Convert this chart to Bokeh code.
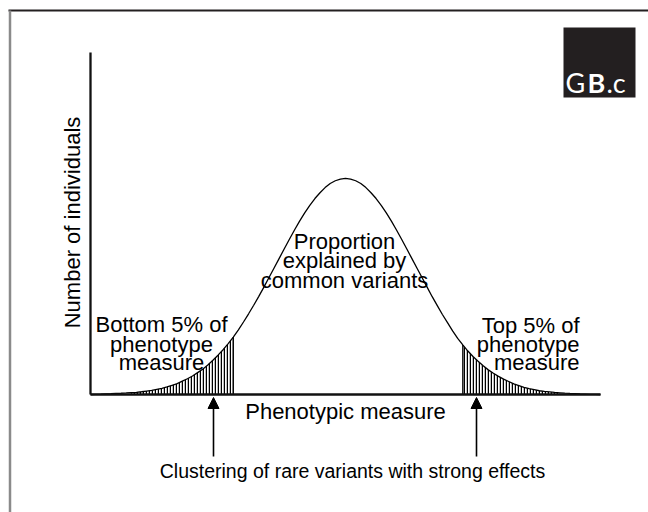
import numpy as np
from bokeh.plotting import figure
from bokeh.models import Range1d, Arrow, NormalHead
from bokeh.core.properties import value
from bokeh.embed import file_html
from bokeh.resources import INLINE

# ---------------- data ----------------
# phenotypic measure (arbitrary units 0..100) and number of individuals (0..100 = top of axis)
phenotype = list(range(0, 101))
individuals = [
    0.0, 0.03, 0.08, 0.15, 0.22, 0.3, 0.37, 0.45, 0.55, 0.65,
    0.8, 1.0, 1.2, 1.5, 1.8, 2.2, 2.7, 3.2, 3.9, 4.6,
    5.4, 6.4, 7.4, 8.6, 10.0, 11.5, 13.1, 14.9, 16.8, 18.9,
    21.2, 23.6, 26.1, 28.7, 31.4, 34.2, 37.0, 39.8, 42.6, 45.4,
    48.1, 50.7, 53.1, 55.3, 57.3, 59.0, 60.5, 61.7, 62.5, 63.0,
    63.2,
    63.0, 62.5, 61.7, 60.5, 59.0, 57.3, 55.3, 53.1, 50.7, 48.1,
    45.4, 42.6, 39.8, 37.0, 34.2, 31.4, 28.6, 26.0, 23.4, 21.0,
    18.6, 16.4, 14.5, 12.7, 11.1, 9.7, 8.4, 7.2, 6.2, 5.3,
    4.5, 3.8, 3.1, 2.6, 2.1, 1.7, 1.4, 1.1, 0.9, 0.75,
    0.6, 0.5, 0.4, 0.32, 0.25, 0.18, 0.12, 0.06, 0.02, 0.0,
]
bottom_tail = (8, 28)    # bottom 5% of phenotype measure
top_tail = (73, 92)      # top 5% of phenotype measure
axis_max = 100

# ---------------- layout helpers (page pixels -> data units) ----------------
X0_PX, X1_PX = 90.0, 600.0
Y0_PX, Y1_PX = 394.0, 52.0
SX = (X1_PX - X0_PX) / axis_max
SY = (Y0_PX - Y1_PX) / axis_max


def dx(px):
    return (px - X0_PX) / SX


def dy(py):
    return (Y0_PX - py) / SY


W, H = 648, 512
PAGE_L, PAGE_T = 0, 0

p = figure(width=W, height=H, output_backend="svg", toolbar_location=None,
           x_range=Range1d(dx(PAGE_L), dx(PAGE_L + W)),
           y_range=Range1d(dy(PAGE_T + H), dy(PAGE_T)),
           x_axis_location=None, y_axis_location=None,
           min_border=0, outline_line_color=None,
           background_fill_color="white", border_fill_color="white")
p.grid.grid_line_color = None

FONT = value("Liberation Sans")

# page frame (top and left rules)
p.segment(x0=[dx(8)], y0=[dy(10)], x1=[dx(648)], y1=[dy(10)],
          line_color="#231f20", line_width=2)
p.segment(x0=[dx(9.5)], y0=[dy(10)], x1=[dx(9.5)], y1=[dy(512)],
          line_color="#8a8a8a", line_width=2.5)

# shaded tails
xs = np.array(phenotype, dtype=float)
ys = np.array(individuals, dtype=float)
for lo, hi in (bottom_tail, top_tail):
    m = (xs >= lo) & (xs <= hi)
    p.varea(x=xs[m], y1=np.zeros(m.sum()), y2=ys[m], fill_color=None,
            hatch_pattern="|", hatch_scale=3, hatch_weight=1.5, hatch_color="black")
cut_x = [bottom_tail[1], top_tail[0]]
cut_y = [individuals[phenotype.index(c)] for c in cut_x]
p.segment(x0=cut_x, y0=[0, 0], x1=cut_x, y1=cut_y, line_color="black", line_width=1.3)

# the distribution curve
p.line(phenotype, individuals, line_color="black", line_width=1.3)

# axes
p.segment(x0=[0, 0], y0=[0, 0], x1=[axis_max, 0], y1=[0, axis_max],
          line_color="#111111", line_width=2.3)

txt = dict(text_font=FONT, text_font_size="22px", text_color="black")

p.text(x=[dx(72)], y=[dy(222)], text=["Number of individuals"], angle=np.pi / 2,
       text_align="center", text_baseline="middle", **txt)
p.text(x=[dx(345)], y=[dy(411)], text=["Phenotypic measure"],
       text_align="center", text_baseline="middle", **txt)
p.text(x=[dx(352)], y=[dy(470)], text=["Clustering of rare variants with strong effects"],
       text_align="center", text_baseline="middle",
       text_font=FONT, text_font_size="19.5px", text_color="black")

p.text(x=[dx(161)] * 3, y=[dy(324), dy(344), dy(362)],
       text=["Bottom 5% of", "phenotype", "measure"],
       text_align="center", text_baseline="middle", **txt)
p.text(x=[dx(579)] * 3, y=[dy(325), dy(344), dy(362)],
       text=["Top 5% of", "phenotype", "measure"],
       text_align="right", text_baseline="middle", **txt)
p.text(x=[dx(344)] * 3, y=[dy(241), dy(260), dy(280)],
       text=["Proportion", "explained by", "common variants"],
       text_align="center", text_baseline="middle", **txt)

# arrows pointing at the tails
for ax_px in (213, 476):
    p.add_layout(Arrow(end=NormalHead(size=11, fill_color="black", line_color="black", line_width=1),
                       x_start=dx(ax_px), y_start=dy(456), x_end=dx(ax_px), y_end=dy(397),
                       line_color="black", line_width=1.6))

# logo
p.quad(left=[dx(563)], right=[dx(635)], top=[dy(27)], bottom=[dy(97)],
       fill_color="#231f20", line_color=None)
logo = dict(text_font=value("Lato"), text_font_size="27px", text_color="white",
            text_align="left", text_baseline="middle")
p.text(x=[dx(565)], y=[dy(82)], text=["G"], **logo)
p.text(x=[dx(587)], y=[dy(82)], text=["B"], text_font_style="bold", **logo)
p.text(x=[dx(606)], y=[dy(82)], text=[".c"], **logo)

open("out.html", "w").write(file_html(p, INLINE))
